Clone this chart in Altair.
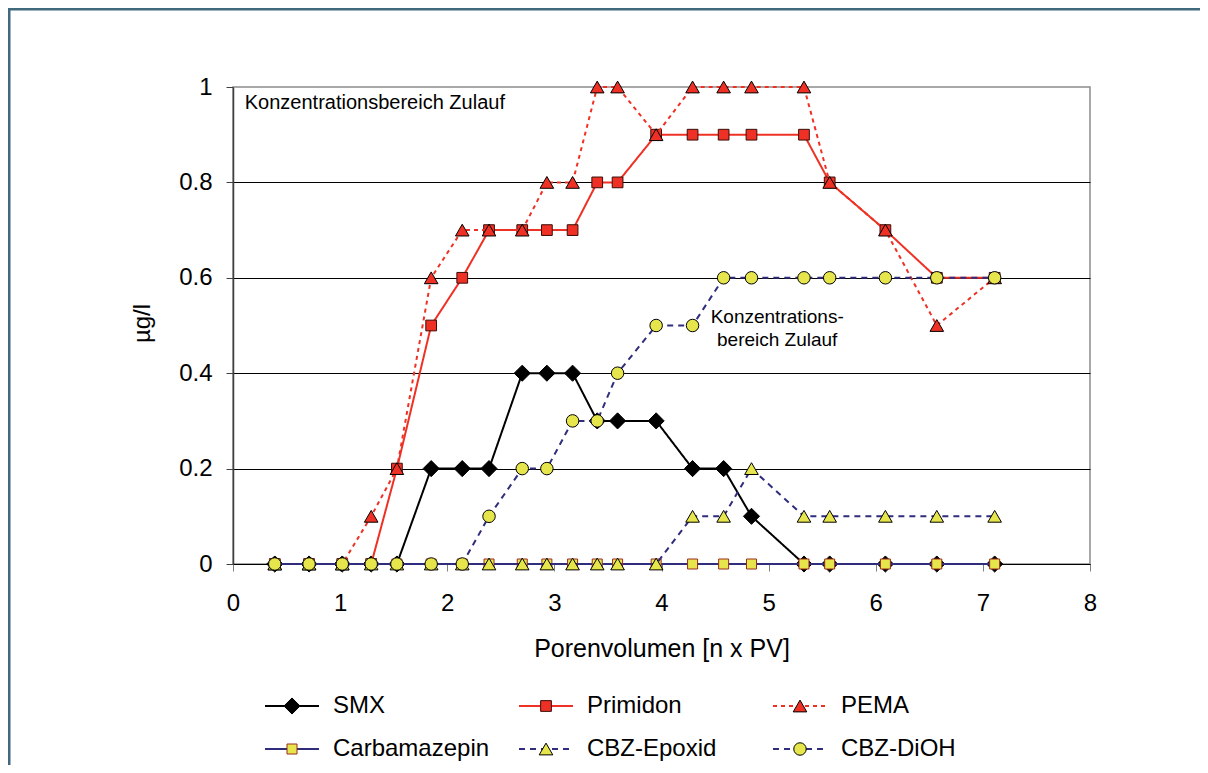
import altair as alt
import pandas as pd

# ---------------- data ----------------
pv = [0.39, 0.71, 1.02, 1.29, 1.53, 1.85, 2.14, 2.39, 2.70, 2.93, 3.17,
      3.40, 3.59, 3.95, 4.29, 4.58, 4.84, 5.33, 5.57, 6.09, 6.57, 7.11]

series_names = ["SMX", "Primidon", "PEMA", "Carbamazepin", "CBZ-Epoxid", "CBZ-DiOH"]

smx = [0, 0, 0, 0, 0, 0.2, 0.2, 0.2, 0.4, 0.4, 0.4,
       0.3, 0.3, 0.3, 0.2, 0.2, 0.1, 0, 0, 0, 0, 0]
primidon = [0, 0, 0, 0, 0.2, 0.5, 0.6, 0.7, 0.7, 0.7, 0.7,
            0.8, 0.8, 0.9, 0.9, 0.9, 0.9, 0.9, 0.8, 0.7, 0.6, 0.6]
pema = [0, 0, 0, 0.1, 0.2, 0.6, 0.7, 0.7, 0.7, 0.8, 0.8,
        1.0, 1.0, 0.9, 1.0, 1.0, 1.0, 1.0, 0.8, 0.7, 0.5, 0.6]
carbamazepin = [0, 0, 0, 0, 0, 0, 0, 0, 0, 0, 0,
                0, 0, 0, 0, 0, 0, 0, 0, 0, 0, 0]
cbz_epoxid = [0, 0, 0, 0, 0, 0, 0, 0, 0, 0, 0,
              0, 0, 0, 0.1, 0.1, 0.2, 0.1, 0.1, 0.1, 0.1, 0.1]
cbz_dioh = [0, 0, 0, 0, 0, 0, 0, 0.1, 0.2, 0.2, 0.3,
            0.3, 0.4, 0.5, 0.5, 0.6, 0.6, 0.6, 0.6, 0.6, 0.6, 0.6]

x_ticks = [0, 1, 2, 3, 4, 5, 6, 7, 8]
y_ticks = [0, 0.2, 0.4, 0.6, 0.8, 1]

annot1_text = ["Konzentrationsbereich Zulauf"]
annot1_x = [0.11]
annot1_y = [0.966]
annot2_text = ["Konzentrations-\nbereich Zulauf"]
annot2_x = [5.08]
annot2_y = [0.518]

legend_col = [0, 1, 2, 0, 1, 2]
legend_row = [0, 0, 0, 1, 1, 1]

# ---------------- tables ----------------
values = {
    "SMX": smx, "Primidon": primidon, "PEMA": pema,
    "Carbamazepin": carbamazepin, "CBZ-Epoxid": cbz_epoxid, "CBZ-DiOH": cbz_dioh,
}
rows = []
for name in series_names:
    for xv, yv in zip(pv, values[name]):
        rows.append({"series": name, "pv": xv, "conc": yv})
df = pd.DataFrame(rows)

legend_df = pd.DataFrame({"series": series_names, "col": legend_col, "row": legend_row})
annot1_df = pd.DataFrame({"text": annot1_text, "x": annot1_x, "y": annot1_y})
annot2_df = pd.DataFrame({"text": annot2_text, "x": annot2_x, "y": annot2_y})

# ---------------- styles ----------------
FONT = "Liberation Sans"
RED = "#ee3124"
NAVY = "#2f2d7c"
YELLOW = "#e6e64c"
DARKRED = "#9c2a1f"
FRAME = "#41697e"

line_colors = ["black", RED, RED, NAVY, NAVY, NAVY]
dashes = [[1, 0], [1, 0], [4, 4], [1, 0], [6, 5], [6, 5]]
fills = ["black", RED, RED, YELLOW, YELLOW, YELLOW]
strokes = ["black", "#3a0c08", "black", DARKRED, "black", "black"]
shapes = ["diamond", "square", "triangle-up", "square", "triangle-up", "circle"]
sizes = [260, 115, 185, 100, 185, 156]


def nscale(rng):
    return alt.Scale(type="ordinal", domain=series_names, range=rng)


color_enc = alt.Color("series:N", scale=nscale(line_colors), legend=None)
dash_enc = alt.StrokeDash("series:N", scale=nscale(dashes), legend=None)
fill_enc = alt.Fill("series:N", scale=nscale(fills), legend=None)
stroke_enc = alt.Stroke("series:N", scale=nscale(strokes), legend=None)
shape_enc = alt.Shape("series:N", scale=nscale(shapes), legend=None)
size_enc = alt.Size("series:N", scale=nscale(sizes), legend=None)

x_enc = alt.X(
    "pv:Q",
    scale=alt.Scale(domain=[0, 8], nice=False),
    axis=alt.Axis(
        values=x_ticks, format="d", title="Porenvolumen [n x PV]", grid=False,
        tickSize=7, tickColor="#808080", domainColor="black", domainWidth=1,
        labelFontSize=24, labelFont=FONT, labelColor="black", labelPadding=20,
        titleFontSize=25, titleFont=FONT, titleColor="black", titleFontWeight="normal",
        titlePadding=21, labelFlush=False,
    ),
)
y_enc = alt.Y(
    "conc:Q",
    scale=alt.Scale(domain=[0, 1], nice=False),
    axis=alt.Axis(
        values=y_ticks, format="~g", title="µg/l",
        grid=True,
        gridColor={"condition": {"test": "datum.value >= 0.99", "value": "transparent"}, "value": "black"},
        gridWidth=1,
        tickSize=7, tickColor="#404040", domainColor="#404040", domainWidth=1.5,
        labelFontSize=24, labelFont=FONT, labelColor="black", labelPadding=14,
        titleFontSize=24, titleFont=FONT, titleColor="black", titleFontWeight="normal",
        titleX=-91, titleY=236, titleBaseline="middle", titleAlign="center", titleAngle=270,
        labelFlush=False,
    ),
)

base = alt.Chart(df).encode(x=x_enc, y=y_enc)

layers = []
for name in series_names:
    flt = alt.datum.series == name
    layers.append(
        base.transform_filter(flt).mark_line(strokeWidth=2).encode(color=color_enc, strokeDash=dash_enc)
    )
    layers.append(
        base.transform_filter(flt)
        .mark_point(filled=True, opacity=1, fillOpacity=1, strokeWidth=1)
        .encode(fill=fill_enc, stroke=stroke_enc, shape=shape_enc, size=size_enc)
    )

annot1 = alt.Chart(annot1_df).mark_text(
    font=FONT, fontSize=20, color="black", align="left", baseline="middle"
).encode(x="x:Q", y="y:Q", text="text:N")
annot2 = alt.Chart(annot2_df).mark_text(
    font=FONT, fontSize=19, color="black", align="center", baseline="middle",
    lineBreak="\n", lineHeight=23
).encode(x="x:Q", y="y:Q", text="text:N")

main = alt.layer(*layers, annot1, annot2)

# ---------------- legend (own scales) ----------------
lx = alt.X("col:Q", scale=alt.Scale(domain=[0, 2], range=[0, 508]), axis=None)
ly = alt.Y("row:Q", scale=alt.Scale(domain=[0, 1], range=[619, 662]), axis=None)
lbase = alt.Chart(legend_df).encode(x=lx, y=ly)
leg_lines = lbase.mark_rule(strokeWidth=2, xOffset=32, x2Offset=86).encode(
    x2="col:Q", color=color_enc, strokeDash=dash_enc
)
leg_points = lbase.mark_point(filled=True, opacity=1, fillOpacity=1, strokeWidth=1, xOffset=59).encode(
    fill=fill_enc, stroke=stroke_enc, shape=shape_enc, size=size_enc
)
leg_text = lbase.mark_text(align="left", baseline="middle", dx=100, font=FONT, fontSize=24, color="black").encode(
    text="series:N"
)
legend = alt.layer(leg_lines, leg_points, leg_text)

# ---------------- outer frame: filled bands on the left and top edges ----------------
frame_df = pd.DataFrame({"a": [0]})
frame_left = alt.Chart(frame_df).mark_rect(fill=FRAME, strokeWidth=0).encode(
    x=alt.value(-225), x2=alt.value(-222.5), y=alt.value(-79), y2=alt.value(760)
)
frame_top = alt.Chart(frame_df).mark_rect(fill=FRAME, strokeWidth=0).encode(
    x=alt.value(-225), x2=alt.value(967), y=alt.value(-79), y2=alt.value(-76.5)
)
frame = alt.layer(frame_left, frame_top)

chart = (
    alt.layer(main, legend, frame)
    .resolve_scale(x="independent", y="independent")
    .properties(
        width=857, height=477,
        autosize=alt.AutoSizeParams(type="none"),
        padding={"left": 225, "top": 79, "right": 110, "bottom": 201},
        background="white",
    )
    .configure_view(stroke="#8c8c8c", strokeWidth=1.5)
)

chart.save("out.html", embed_options={"renderer": "svg", "actions": False})
